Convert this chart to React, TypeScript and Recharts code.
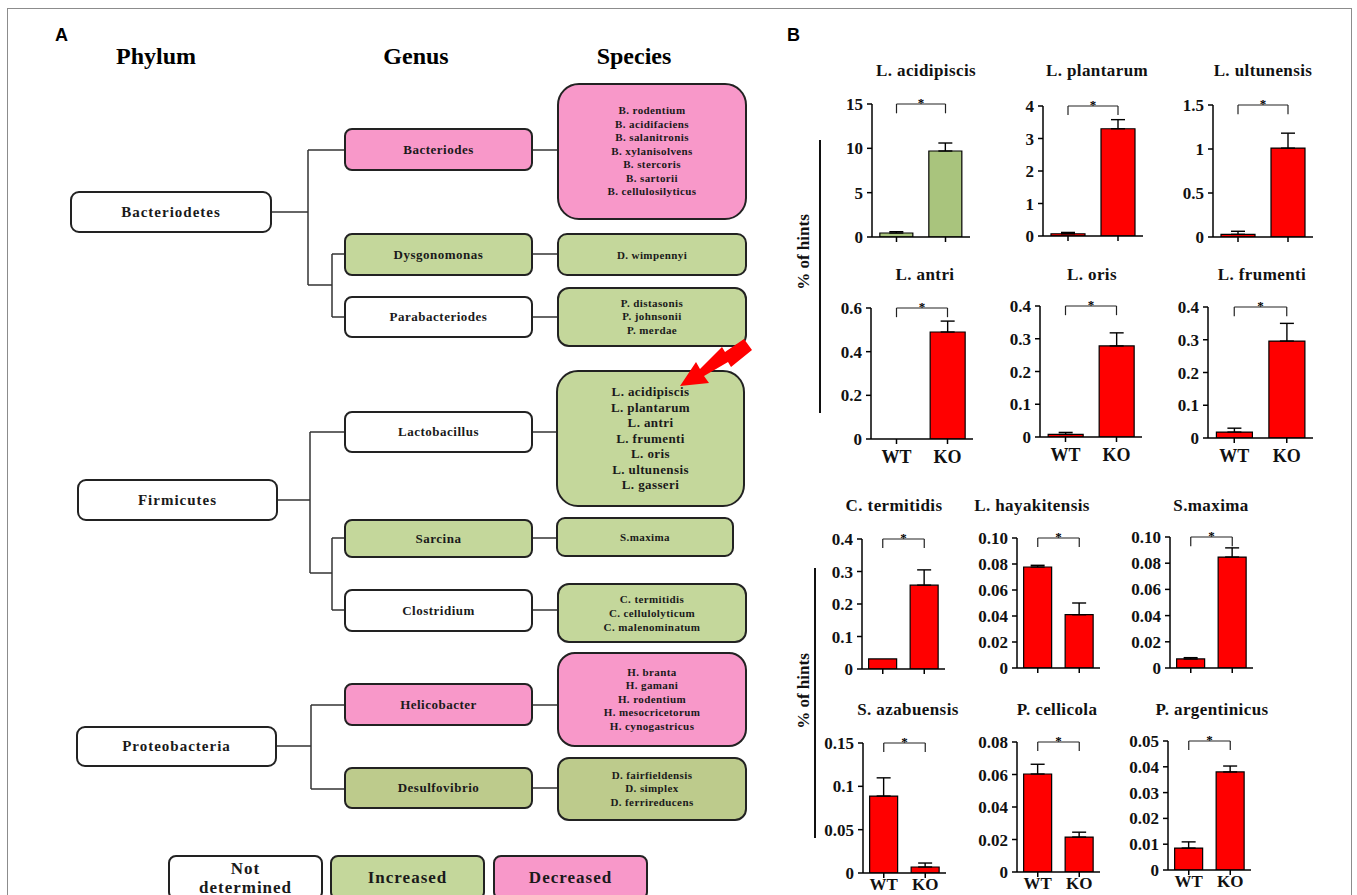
import React from 'react';
import { BarChart, Bar, XAxis, YAxis, ErrorBar, ReferenceLine } from 'recharts';

// ---- panel B data ----
const groups = ['WT', 'KO'];
const titles = [
  'L. acidipiscis', 'L. plantarum', 'L. ultunensis',
  'L. antri', 'L. oris', 'L. frumenti',
  'C. termitidis', 'L. hayakitensis', 'S.maxima',
  'S. azabuensis', 'P. cellicola', 'P. argentinicus',
];
const wtValues = [0.45, 0.07, 0.03, 0, 0.008, 0.018, 0.031, 0.0777, 0.0069, 0.0888, 0.0603, 0.0085];
const wtErrors = [0.15, 0.04, 0.035, null, 0.006, 0.012, null, 0.0013, 0.001, 0.021, 0.006, 0.0024];
const koValues = [9.7, 3.3, 1.01, 0.49, 0.278, 0.296, 0.258, 0.041, 0.0847, 0.0069, 0.0215, 0.038];
const koErrors = [0.9, 0.28, 0.17, 0.05, 0.04, 0.054, 0.047, 0.009, 0.007, 0.0046, 0.003, 0.0023];
const yTickLabels = [
  ['0', '5', '10', '15'],
  ['0', '1', '2', '3', '4'],
  ['0', '0.5', '1', '1.5'],
  ['0', '0.2', '0.4', '0.6'],
  ['0', '0.1', '0.2', '0.3', '0.4'],
  ['0', '0.1', '0.2', '0.3', '0.4'],
  ['0', '0.1', '0.2', '0.3', '0.4'],
  ['0', '0.02', '0.04', '0.06', '0.08', '0.10'],
  ['0', '0.02', '0.04', '0.06', '0.08', '0.10'],
  ['0', '0.05', '0.1', '0.15'],
  ['0', '0.02', '0.04', '0.06', '0.08'],
  ['0', '0.01', '0.02', '0.03', '0.04', '0.05'],
];
const greenCharts = ['L. acidipiscis'];
const labelledCharts = ['L. antri', 'L. oris', 'L. frumenti', 'S. azabuensis', 'P. cellicola', 'P. argentinicus'];
const bottomRow = ['S. azabuensis', 'P. cellicola', 'P. argentinicus'];

// ---- panel A data ----
const headers = ['Phylum', 'Genus', 'Species'];
const phyla = ['Bacteriodetes', 'Firmicutes', 'Proteobacteria'];
const genera = ['Bacteriodes', 'Dysgonomonas', 'Parabacteriodes', 'Lactobacillus', 'Sarcina', 'Clostridium', 'Helicobacter', 'Desulfovibrio'];
const genusStatus = ['dec', 'inc', 'nd', 'nd', 'inc', 'nd', 'dec', 'inc2'];
const speciesLists = [
  ['B. rodentium', 'B. acidifaciens', 'B. salanitronis', 'B. xylanisolvens', 'B. stercoris', 'B. sartorii', 'B. cellulosilyticus'],
  ['D. wimpennyi'],
  ['P. distasonis', 'P. johnsonii', 'P. merdae'],
  ['L. acidipiscis', 'L. plantarum', 'L. antri', 'L. frumenti', 'L. oris', 'L. ultunensis', 'L. gasseri'],
  ['S.maxima'],
  ['C. termitidis', 'C. cellulolyticum', 'C. malenominatum'],
  ['H. branta', 'H. gamani', 'H. rodentium', 'H. mesocricetorum', 'H. cynogastricus'],
  ['D. fairfieldensis', 'D. simplex', 'D. ferrireducens'],
];
const speciesStatus = ['dec', 'inc', 'inc', 'inc', 'inc', 'inc', 'dec', 'inc2'];
const legendLabels = ['Not determined', 'Increased', 'Decreased'];
const legendStatus = ['nd', 'inc', 'dec'];

const SERIF = '"Liberation Serif", "Times New Roman", serif';
const SANS = '"Liberation Sans", Arial, sans-serif';
const statusColor: Record<string, string> = {
  nd: '#ffffff',
  inc: '#C4D79B',
  inc2: '#BDCB8C',
  dec: '#F898C9',
};

// ---- layout (pixels) ----
// [axisX, topY, zeroY, xEnd, titleX, titleY]
const chartLayout = [
  [872, 104, 237, 970, 926, 71],
  [1043, 106, 236, 1143, 1097, 71],
  [1213, 105, 237, 1313, 1263, 71],
  [871, 308, 439, 973, 925, 275],
  [1040, 306, 437, 1142, 1092, 275],
  [1208, 307, 438, 1313, 1262, 275],
  [862, 539, 669, 945, 894, 506],
  [1017, 538, 668, 1100, 1032, 506],
  [1170, 537, 668, 1253, 1211, 506],
  [863, 743, 873, 946, 908, 710],
  [1017, 742, 872, 1100, 1057, 710],
  [1168, 741, 870, 1251, 1212, 710],
];
const phylumBoxes = [[70, 191, 202, 42], [77, 479, 201, 42], [76, 726, 201, 41]];
const genusBoxes = [[344, 128, 189, 43], [344, 233, 189, 43], [344, 296, 189, 42], [344, 411, 189, 42], [344, 519, 189, 39], [344, 589, 189, 43], [344, 683, 189, 43], [344, 767, 189, 42]];
// [x, y, w, h, radius, fontSize, lineHeight]
const speciesBoxes = [
  [557, 83, 190, 137, 22, 11, 13.6],
  [557, 233, 190, 43, 10, 11, 14],
  [557, 287, 190, 60, 12, 11, 13.5],
  [556, 370, 189, 137, 22, 13, 15.5],
  [556, 517, 178, 40, 9, 11, 14],
  [557, 583, 190, 60, 12, 11, 14],
  [557, 652, 190, 95, 18, 11, 13.5],
  [557, 757, 190, 64, 12, 11, 13.3],
];
const legendBoxes = [[168, 855, 155, 45], [330, 855, 155, 45], [493, 855, 155, 45]];
const treeLines = [
  [272, 212, 308, 212], [308, 150, 308, 285], [308, 150, 344, 150], [308, 285, 332, 285],
  [332, 254, 332, 317], [332, 254, 344, 254], [332, 317, 344, 317],
  [278, 500, 310, 500], [310, 432, 310, 573], [310, 432, 344, 432], [310, 573, 332, 573],
  [332, 538, 332, 610], [332, 538, 344, 538], [332, 610, 344, 610],
  [277, 746, 311, 746], [311, 705, 311, 789], [311, 705, 344, 705], [311, 789, 344, 789],
  [533, 150, 557, 150], [533, 254, 557, 254], [533, 317, 557, 317], [533, 432, 556, 432],
  [533, 538, 556, 538], [533, 610, 557, 610], [533, 705, 557, 705], [533, 788, 557, 788],
];
const arrowPoints = '680,386 709,383 704,376 728,362 731,367 752,350 744,339 725,352 722,347 700,369 696,362';

const noTick = () => <g />;

function MiniBar({ idx }: { idx: number }) {
  const [axisX, topY, zeroY, xEnd, titleX, titleY] = chartLayout[idx];
  const labels = yTickLabels[idx];
  const ticks = labels.map(Number);
  const max = ticks[ticks.length - 1];
  const data = groups.map((g, i) => {
    const v = i === 0 ? wtValues[idx] : koValues[idx];
    const e = i === 0 ? wtErrors[idx] : koErrors[idx];
    return { g, v, err: e == null ? null : [0, e] };
  });
  const yW = 52, mTop = 30, mRight = 12, xH = 34;
  const w = yW + (xEnd - axisX) + mRight;
  const h = mTop + (zeroY - topY) + xH;
  const showX = labelledCharts.includes(titles[idx]);
  const atBottom = bottomRow.includes(titles[idx]);
  const fill = greenCharts.includes(titles[idx]) ? '#A9C47D' : '#FF0000';
  const top = max * 1.0;
  const leg = max * 0.93;
  const lineProps = { stroke: '#222', strokeWidth: 1.2, ifOverflow: 'visible' as const };

  return (
    <>
      <div style={{
        position: 'absolute', left: titleX, top: titleY, transform: 'translate(-50%, -50%)',
        fontFamily: SERIF, fontWeight: 'bold', fontSize: 17, letterSpacing: 0.4, whiteSpace: 'nowrap', color: '#111',
      }}>{titles[idx]}</div>
      <div style={{ position: 'absolute', left: axisX - yW, top: topY - mTop }}>
        <BarChart width={w} height={h} data={data} margin={{ top: mTop, right: mRight, left: 0, bottom: 0 }} barCategoryGap="16%">
          <XAxis
            dataKey="g"
            height={xH}
            axisLine={{ stroke: '#000', strokeWidth: 1.5 }}
            tickLine={{ stroke: '#000', strokeWidth: 1.5 }}
            tickSize={5}
            tickMargin={atBottom ? 0 : 6}
            tick={showX ? { fontFamily: SERIF, fontWeight: 'bold', fontSize: atBottom ? 17 : 18, fill: '#111' } : noTick}
            interval={0}
          />
          <YAxis
            width={yW}
            domain={[0, max]}
            ticks={ticks}
            interval={0}
            allowDataOverflow
            axisLine={{ stroke: '#000', strokeWidth: 1.5 }}
            tickLine={{ stroke: '#000', strokeWidth: 1.5 }}
            tickSize={5}
            tickMargin={4}
            tick={{ fontFamily: SERIF, fontWeight: 'bold', fontSize: 17, fill: '#111' }}
            tickFormatter={(v: number) => labels[ticks.indexOf(v)] ?? String(v)}
          />
          <Bar dataKey="v" fill={fill} stroke="#000" strokeWidth={1.2} isAnimationActive={false}>
            <ErrorBar dataKey="err" width={7} stroke="#000" strokeWidth={1.4} direction="y" />
          </Bar>
          <ReferenceLine
            segment={[{ x: 'WT', y: top }, { x: 'KO', y: top }]}
            {...lineProps}
            label={{ value: '*', position: 'top', offset: -3, fontSize: 13, fontWeight: 'bold', fontFamily: SERIF, fill: '#000', stroke: 'none' }}
          />
          <ReferenceLine segment={[{ x: 'WT', y: top }, { x: 'WT', y: leg }]} {...lineProps} />
          <ReferenceLine segment={[{ x: 'KO', y: top }, { x: 'KO', y: leg }]} {...lineProps} />
        </BarChart>
      </div>
    </>
  );
}

const boxBase: React.CSSProperties = {
  position: 'absolute',
  boxSizing: 'border-box',
  border: '2px solid #222',
  display: 'flex',
  flexDirection: 'column',
  alignItems: 'center',
  justifyContent: 'center',
  textAlign: 'center',
  fontFamily: SERIF,
  fontWeight: 'bold',
  color: '#1a1a1a',
  whiteSpace: 'nowrap',
};

export default function App() {
  return (
    <div style={{ position: 'absolute', left: 0, top: 0, width: 1357, height: 895, overflow: 'hidden', background: '#fff' }}>
      {/* frame */}
      <div style={{ position: 'absolute', left: 7, top: 8, width: 1345, height: 900, border: '1.5px solid #8c8c8c', boxSizing: 'border-box' }} />

      {/* panel letters */}
      <div style={{ position: 'absolute', left: 55, top: 25, fontFamily: SANS, fontWeight: 'bold', fontSize: 18 }}>A</div>
      <div style={{ position: 'absolute', left: 787, top: 25, fontFamily: SANS, fontWeight: 'bold', fontSize: 18 }}>B</div>

      {/* column headers */}
      {headers.map((t, i) => (
        <div key={t} style={{
          position: 'absolute', left: [156, 416, 634][i], top: 56, transform: 'translate(-50%, -50%)',
          fontFamily: SERIF, fontWeight: 'bold', fontSize: 24, whiteSpace: 'nowrap',
        }}>{t}</div>
      ))}

      {/* tree connectors */}
      <svg width={1357} height={895} style={{ position: 'absolute', left: 0, top: 0 }}>
        {treeLines.map(([x1, y1, x2, y2], i) => (
          <line key={i} x1={x1} y1={y1} x2={x2} y2={y2} stroke="#333" strokeWidth={1.5} />
        ))}
      </svg>

      {phyla.map((p, i) => {
        const [x, y, w, h] = phylumBoxes[i];
        return (
          <div key={p} style={{ ...boxBase, left: x, top: y, width: w, height: h, borderRadius: 9, background: '#fff', fontSize: 15, letterSpacing: 1 }}>{p}</div>
        );
      })}

      {genera.map((g, i) => {
        const [x, y, w, h] = genusBoxes[i];
        return (
          <div key={g} style={{ ...boxBase, left: x, top: y, width: w, height: h, borderRadius: 8, background: statusColor[genusStatus[i]], fontSize: 13, letterSpacing: 0.5 }}>{g}</div>
        );
      })}

      {speciesLists.map((list, i) => {
        const [x, y, w, h, r, fs, lh] = speciesBoxes[i];
        return (
          <div key={i} style={{ ...boxBase, left: x, top: y, width: w, height: h, borderRadius: r, background: statusColor[speciesStatus[i]], fontSize: fs, lineHeight: `${lh}px`, letterSpacing: 0.4 }}>
            {list.map((s) => <div key={s}>{s}</div>)}
          </div>
        );
      })}

      {/* red pointer arrow, drawn over the boxes */}
      <svg width={1357} height={895} style={{ position: 'absolute', left: 0, top: 0, pointerEvents: 'none' }}>
        <polygon points={arrowPoints} fill="#FF0000" />
      </svg>

      {legendLabels.map((l, i) => {
        const [x, y, w, h] = legendBoxes[i];
        return (
          <div key={l} style={{ ...boxBase, left: x, top: y, width: w, height: h, borderRadius: 8, background: statusColor[legendStatus[i]], fontSize: 17, letterSpacing: 1, lineHeight: '19px', whiteSpace: 'normal', padding: '0 30px' }}>{l}</div>
        );
      })}

      {/* y-axis titles for panel B */}
      <div style={{ position: 'absolute', left: 819, top: 140, width: 1.5, height: 273, background: '#111' }} />
      <div style={{ position: 'absolute', left: 814, top: 568, width: 1.5, height: 270, background: '#111' }} />
      {[252, 691].map((cy) => (
        <div key={cy} style={{
          position: 'absolute', left: 804, top: cy, transform: 'translate(-50%, -50%) rotate(-90deg)',
          fontFamily: SERIF, fontWeight: 'bold', fontSize: 17, whiteSpace: 'nowrap', color: '#111',
        }}>% of hints</div>
      ))}

      {titles.map((t, i) => <MiniBar key={t} idx={i} />)}
    </div>
  );
}
